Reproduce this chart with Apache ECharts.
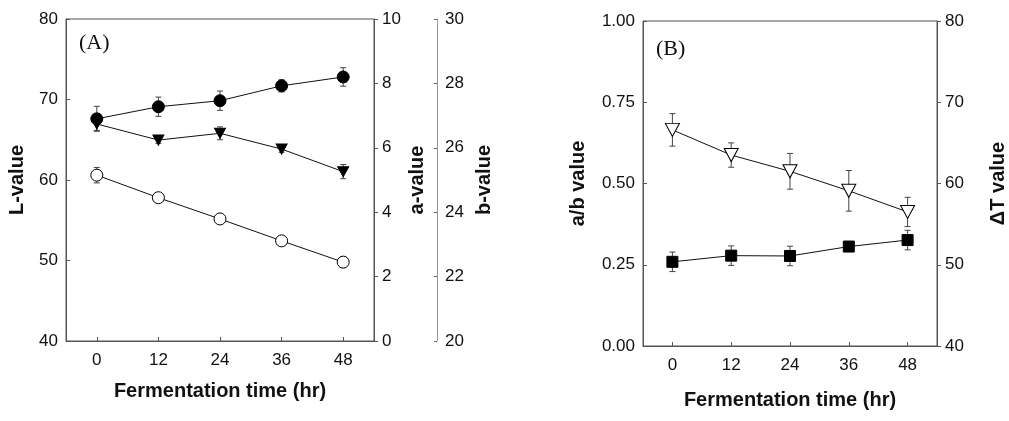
<!DOCTYPE html>
<html>
<head>
<meta charset="utf-8">
<script src="https://cdn.jsdelivr.net/npm/echarts@6/dist/echarts.min.js"></script>
<style>
  html, body { margin: 0; padding: 0; background: #fff; }
  #main { width: 1009px; height: 421px; }
</style>
</head>
<body>
<div id="main"></div>
<script>
var hours = [0, 12, 24, 36, 48];
var hourTicks = [0, 12, 24, 36, 48];

// panel A
var lValue = [67.6, 69.1, 69.85, 71.7, 72.8];
var lErr = [1.55, 1.2, 1.2, 0.75, 1.15];
var aValue = [5.15, 4.45, 3.79, 3.11, 2.45];
var aErr = [0.24, 0.1, 0.1, 0.1, 0.17];
var bValue = [26.74, 26.24, 26.45, 25.96, 25.26];
var bErr = [0.2, 0.1, 0.2, 0.1, 0.22];

// panel B
var abRatio = [0.259, 0.278, 0.277, 0.306, 0.326];
var abErr = [0.03, 0.03, 0.03, 0.015, 0.03];
var deltaT = [66.6, 63.5, 61.5, 59.1, 56.5];
var dtErr = [2.0, 1.5, 2.2, 2.5, 1.8];

var chartDom = document.getElementById('main');
var myChart = echarts.init(chartDom);
var option;

var FONT = "'Liberation Sans', Arial, sans-serif";
var AXIS_COLOR = '#555';
var labelStyle = { color: '#111', fontSize: 17, fontFamily: FONT };
var nameStyle = { color: '#111', fontSize: 20, fontWeight: 'bold', fontFamily: FONT };

function pairs(vals) {
  return hours.map(function (h, i) { return [h, vals[i]]; });
}

function errorBars(xi, yi, vals, errs) {
  return {
    type: 'custom',
    xAxisIndex: xi,
    yAxisIndex: yi,
    z: 1,
    silent: true,
    encode: { x: 0, y: [1, 2] },
    data: hours.map(function (h, i) { return [h, vals[i] - errs[i], vals[i] + errs[i]]; }),
    renderItem: function (params, api) {
      var lo = api.coord([api.value(0), api.value(1)]);
      var hi = api.coord([api.value(0), api.value(2)]);
      var w = 3;
      var st = { stroke: '#444', lineWidth: 1 };
      return {
        type: 'group',
        children: [
          { type: 'line', shape: { x1: lo[0], y1: lo[1], x2: hi[0], y2: hi[1] }, style: st },
          { type: 'line', shape: { x1: lo[0] - w, y1: lo[1], x2: lo[0] + w, y2: lo[1] }, style: st },
          { type: 'line', shape: { x1: hi[0] - w, y1: hi[1], x2: hi[0] + w, y2: hi[1] }, style: st }
        ]
      };
    }
  };
}

function lineSeries(xi, yi, vals, symbol, size, fill) {
  return {
    type: 'line',
    xAxisIndex: xi,
    yAxisIndex: yi,
    z: 3,
    data: pairs(vals),
    symbol: symbol,
    symbolSize: size,
    showAllSymbol: true,
    lineStyle: { color: '#111', width: 1 },
    itemStyle: { color: fill, borderColor: '#000', borderWidth: 1, opacity: 1 },
    emphasis: { disabled: true },
    animation: false
  };
}

function xAxisFor(gi, gap) {
  return {
    gridIndex: gi,
    type: 'value',
    min: -6,
    max: 54,
    name: 'Fermentation time (hr)',
    nameLocation: 'middle',
    nameGap: gap,
    nameTextStyle: nameStyle,
    axisLine: { onZero: false, lineStyle: { color: AXIS_COLOR } },
    axisTick: { inside: true, length: 4, customValues: hourTicks, lineStyle: { color: AXIS_COLOR } },
    axisLabel: Object.assign({ customValues: hourTicks, margin: 11 }, labelStyle),
    splitLine: { show: false }
  };
}

function yAxisFor(gi, pos, min, max, step, name, gap, extra) {
  var ax = {
    gridIndex: gi,
    type: 'value',
    position: pos,
    min: min,
    max: max,
    interval: step,
    name: name,
    nameLocation: 'middle',
    nameGap: gap,
    nameRotate: 90,
    nameTextStyle: nameStyle,
    axisLine: { show: true, onZero: false, lineStyle: { color: AXIS_COLOR } },
    axisTick: { show: true, inside: pos === 'left', length: 4, lineStyle: { color: AXIS_COLOR } },
    axisLabel: Object.assign({ margin: 8 }, labelStyle),
    splitLine: { show: false }
  };
  return Object.assign(ax, extra || {});
}

var downTri = 'path://M0,0 L10,0 L5,9 Z';

option = {
  backgroundColor: '#fff',
  animation: false,
  textStyle: { fontFamily: FONT },
  grid: [
    { left: 66, top: 19, width: 308, height: 322, show: true, borderColor: AXIS_COLOR, borderWidth: 1, backgroundColor: 'transparent' },
    { left: 643, top: 21, width: 296, height: 325, show: true, borderColor: AXIS_COLOR, borderWidth: 1, backgroundColor: 'transparent' }
  ],
  graphic: [
    { type: 'text', left: 79, top: 32, style: { text: '(A)', font: '22px "Liberation Serif", "Times New Roman", serif', fill: '#111' } },
    { type: 'text', left: 656, top: 38, style: { text: '(B)', font: '22px "Liberation Serif", "Times New Roman", serif', fill: '#111' } }
  ],
  xAxis: [xAxisFor(0, 40), xAxisFor(1, 44)],
  yAxis: [
    yAxisFor(0, 'left', 40, 80, 10, 'L-value', 39),
    yAxisFor(0, 'right', 0, 10, 2, 'a-value', 33),
    yAxisFor(0, 'right', 20, 30, 2, 'b-value', 37, {
      offset: 63,
      axisLine: { show: true, onZero: false, lineStyle: { color: '#999' } },
      axisTick: { show: true, inside: true, length: 3, lineStyle: { color: '#666' } }
    }),
    yAxisFor(1, 'left', 0, 1, 0.25, 'a/b value', 55, {
      axisLabel: Object.assign({ margin: 8, formatter: function (v) { return v.toFixed(2); } }, labelStyle)
    }),
    yAxisFor(1, 'right', 40, 80, 10, '\u0394T value', 51)
  ],
  series: [
    errorBars(0, 0, lValue, lErr),
    errorBars(0, 1, aValue, aErr),
    errorBars(0, 2, bValue, bErr),
    errorBars(1, 3, abRatio, abErr),
    errorBars(1, 4, deltaT, dtErr),
    lineSeries(0, 0, lValue, 'circle', 12, '#000'),
    lineSeries(0, 1, aValue, 'circle', 12, '#fff'),
    lineSeries(0, 2, bValue, downTri, [11, 10], '#000'),
    lineSeries(1, 3, abRatio, 'rect', 11, '#000'),
    lineSeries(1, 4, deltaT, downTri, [14, 13], '#fff')
  ]
};

option && myChart.setOption(option);
</script>
</body>
</html>
